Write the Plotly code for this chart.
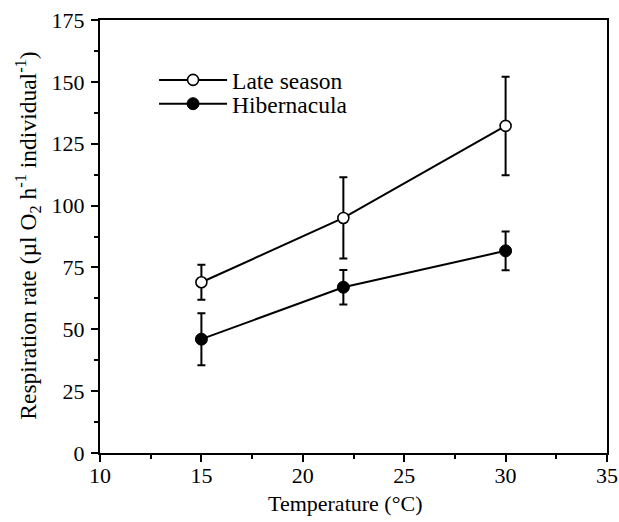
import plotly.graph_objects as go

temperature = [15, 22, 30]
late_season = [69.0, 95.0, 132.2]
late_season_err = [7.1, 16.4, 19.9]
hibernacula = [46.0, 67.0, 81.7]
hibernacula_err = [10.5, 7.0, 7.8]

x_ticks = [10, 15, 20, 25, 30, 35]
y_ticks = [0, 25, 50, 75, 100, 125, 150, 175]

x_title = "Temperature (°C)"
y_title = "Respiration rate (µl O<sub>2</sub> h<sup>-1</sup> individual<sup>-1</sup>)"

FONT = "Liberation Serif"

fig = go.Figure()
fig.add_trace(go.Scatter(
    x=temperature, y=late_season, name="Late season", mode="lines+markers",
    legend="legend",
    line=dict(color="black", width=2),
    marker=dict(symbol="circle", size=11, color="white", line=dict(color="black", width=1.6)),
    error_y=dict(type="data", array=late_season_err, visible=True, color="black", thickness=2, width=4),
))
fig.add_trace(go.Scatter(
    x=temperature, y=hibernacula, name="Hibernacula", mode="lines+markers",
    legend="legend2",
    line=dict(color="black", width=2),
    marker=dict(symbol="circle", size=12, color="black", line=dict(color="black", width=1)),
    error_y=dict(type="data", array=hibernacula_err, visible=True, color="black", thickness=2, width=4),
))

legend_style = dict(xanchor="left", yanchor="top", bgcolor="rgba(0,0,0,0)", itemwidth=68,
                    font=dict(family=FONT, size=23.5, color="black"))

fig.update_layout(
    width=619, height=522,
    margin=dict(l=100, r=12, t=20, b=69),
    paper_bgcolor="white", plot_bgcolor="white",
    font=dict(family=FONT, size=22, color="black"),
    showlegend=True,
    legend=dict(x=0.1066, y=0.912, **legend_style),
    legend2=dict(x=0.1066, y=0.857, **legend_style),
    annotations=[
        dict(text=x_title, xref="paper", yref="paper", x=0.484, y=-0.1155,
             xanchor="center", yanchor="middle", showarrow=False,
             font=dict(family=FONT, size=22, color="black")),
        dict(text=y_title, xref="paper", yref="paper", x=-0.142, y=0.502, textangle=-90,
             xanchor="center", yanchor="middle", showarrow=False,
             font=dict(family=FONT, size=23.5, color="black")),
    ],
)
fig.update_xaxes(
    range=[10, 35], tickvals=x_ticks, ticktext=[str(v) for v in x_ticks],
    automargin=False,
    showgrid=False, zeroline=False, showline=True, linecolor="black", linewidth=2,
    mirror=True, ticks="outside", ticklen=7, tickwidth=2, tickcolor="black",
    minor=dict(dtick=2.5, ticks="outside", ticklen=4, tickwidth=2, tickcolor="black", showgrid=False),
    ticklabelstandoff=-5,
    tickfont=dict(family=FONT, size=22, color="black"),
)
fig.update_yaxes(
    range=[0, 175], tickvals=y_ticks, ticktext=[str(v) for v in y_ticks],
    automargin=False,
    showgrid=False, zeroline=False, showline=True, linecolor="black", linewidth=2,
    mirror=True, ticks="outside", ticklen=7, tickwidth=2, tickcolor="black",
    minor=dict(dtick=12.5, ticks="outside", ticklen=4, tickwidth=2, tickcolor="black", showgrid=False),
    ticklabelstandoff=2,
    tickfont=dict(family=FONT, size=22, color="black"),
)

fig.write_html("out.html", config={"displayModeBar": False},
               post_script="document.body.style.margin='0';document.body.style.padding='0';")
